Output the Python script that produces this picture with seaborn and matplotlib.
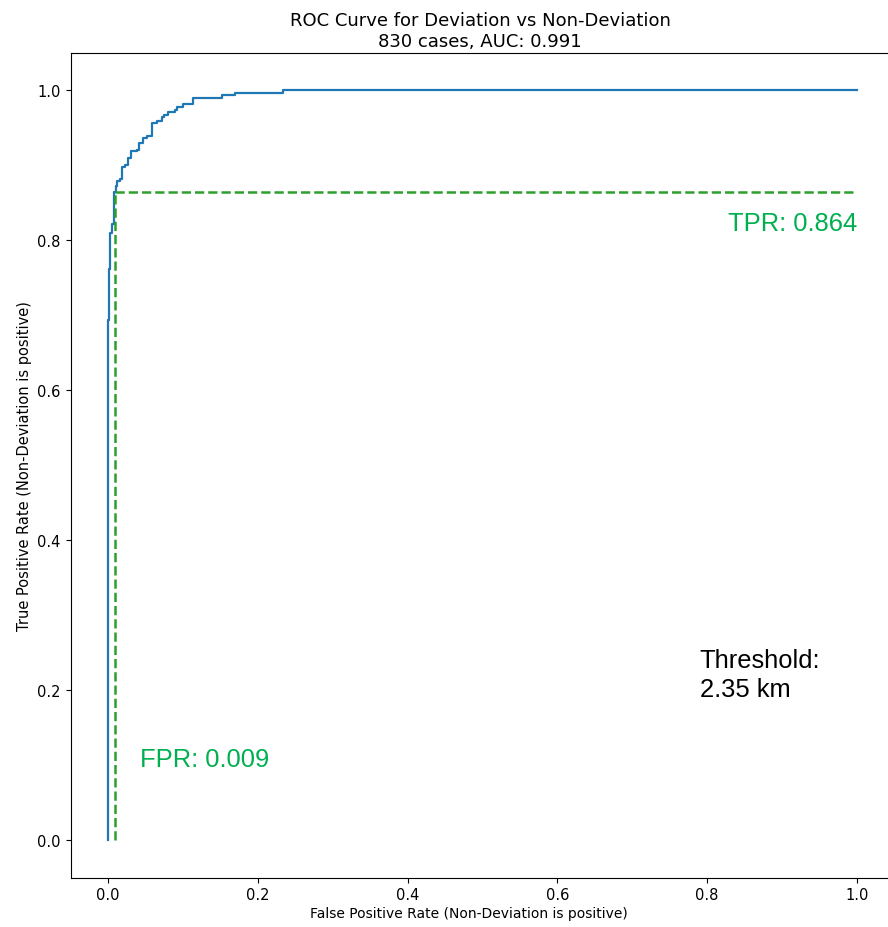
import matplotlib
matplotlib.use("Agg")
import matplotlib.pyplot as plt
import seaborn as sns
import pandas as pd

# ROC curve vertices (x of each vertical segment, top of that segment)
fpr = [0.0, 0.0, 0.0015, 0.003, 0.0058, 0.008, 0.0103, 0.0125, 0.0165, 0.0182,
       0.0227, 0.0263, 0.0303, 0.0383, 0.0418, 0.0463, 0.0516, 0.0592, 0.0654,
       0.0717, 0.0744, 0.0797, 0.0895, 0.0917, 0.100, 0.113, 0.1526, 0.170,
       0.234, 1.0]
tpr = [0.0, 0.693, 0.761, 0.81, 0.821, 0.864, 0.872, 0.879, 0.882, 0.897,
       0.900, 0.909, 0.919, 0.920, 0.930, 0.936, 0.939, 0.956, 0.959,
       0.964, 0.967, 0.971, 0.973, 0.977, 0.982, 0.990, 0.994, 0.996,
       1.0, 1.0]

thr_fpr = 0.009
thr_tpr = 0.864
n_cases = 830
auc = 0.991
threshold_km = 2.35

title = f"ROC Curve for Deviation vs Non-Deviation\n{n_cases} cases, AUC: {auc}"
xlabel = "False Positive Rate (Non-Deviation is positive)"
ylabel = "True Positive Rate (Non-Deviation is positive)"

df = pd.DataFrame({"fpr": fpr, "tpr": tpr})
vline = pd.DataFrame({"x": [thr_fpr, thr_fpr], "y": [0.0, thr_tpr]})
hline = pd.DataFrame({"x": [thr_fpr, 1.0], "y": [thr_tpr, thr_tpr]})

fig = plt.figure(figsize=(8.88, 9.28), dpi=100)
ax = fig.add_axes([70.5 / 888, 1 - 878.5 / 928, 840 / 888, 825 / 928])

sns.lineplot(data=df, x="fpr", y="tpr", ax=ax, estimator=None, sort=False,
             color="#1f77b4", linewidth=1.6, drawstyle="steps-post")
sns.lineplot(data=vline, x="x", y="y", ax=ax, estimator=None, sort=False,
             color="#2ca02c", linewidth=1.8, linestyle="--")
sns.lineplot(data=hline, x="x", y="y", ax=ax, estimator=None, sort=False,
             color="#2ca02c", linewidth=1.8, linestyle="--")

ax.set_xlim(-0.05, -0.05 + 840 / 749)
ax.set_ylim(-0.05, 1.05)
ax.set_xticks([0.0, 0.2, 0.4, 0.6, 0.8, 1.0])
ax.set_yticks([0.0, 0.2, 0.4, 0.6, 0.8, 1.0])
ax.spines["right"].set_visible(False)
ax.tick_params(labelsize=10.5)
ax.set_xlabel(xlabel, fontsize=10)
ax.xaxis.set_label_coords(0.474, -0.035)
ax.set_ylabel(ylabel, fontsize=10.5)
ax.set_title(title, fontsize=13, linespacing=1.15, pad=5, x=0.4875)

ann_font = ["Liberation Sans", "DejaVu Sans"]
ax.text(1.0, 0.823, f"TPR: {thr_tpr}", color="#00b050", fontsize=18.4,
        family=ann_font, ha="right", va="center")
ax.text(0.043, 0.108, f"FPR: {thr_fpr}", color="#00b050", fontsize=18.4,
        family=ann_font, ha="left", va="center")
ax.text(0.79, 0.221, f"Threshold:\n{threshold_km} km", color="black", fontsize=18.4,
        family=ann_font, ha="left", va="center", linespacing=1.25)

fig.savefig("out.png", dpi=100)
